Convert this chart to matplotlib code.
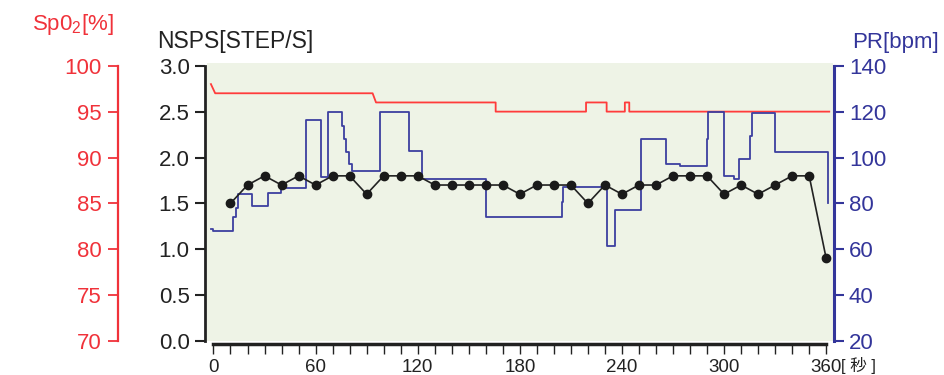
import matplotlib
matplotlib.use("Agg")
import matplotlib.pyplot as plt

plt.rcParams['font.family'] = ['Liberation Sans', 'Noto Sans CJK JP', 'DejaVu Sans']
plt.rcParams['mathtext.default'] = 'regular'

# NSPS (steps per second), one point every 10 s
nsps_t = [10, 20, 30, 40, 50, 60, 70, 80, 90, 100, 110, 120, 130, 140, 150, 160, 170, 180,
          190, 200, 210, 220, 230, 240, 250, 260, 270, 280, 290, 300, 310, 320, 330, 340, 350, 360]
nsps_v = [1.5, 1.7, 1.8, 1.7, 1.8, 1.7, 1.8, 1.8, 1.6, 1.8, 1.8, 1.8, 1.7, 1.7, 1.7, 1.7, 1.7, 1.6,
          1.7, 1.7, 1.7, 1.5, 1.7, 1.6, 1.7, 1.7, 1.8, 1.8, 1.8, 1.6, 1.7, 1.6, 1.7, 1.8, 1.8, 0.9]

# pulse rate, step changes (time, new value)
pr_t = [-1.6, -0.5, 11.6, 13.0, 14.6, 22.4, 32.2, 39.5, 54.3, 63.0, 67.3, 75.7, 76.5, 77.9, 79.6,
        81.6, 97.8, 114.6, 122.3, 160.1, 204.6, 205.5, 231.0, 235.9, 251.0, 265.7, 274.1, 289.8,
        290.7, 299.9, 306.0, 308.9, 315.2, 316.3, 329.9, 360.9]
pr_v = [69, 68, 74, 78, 84, 79, 84.5, 86.5, 116.5, 91.5, 119.7, 113.8, 108, 102.6, 97.1,
        94.2, 120, 103, 90.6, 74, 80.5, 87, 61.5, 77.2, 108, 97, 96.3, 108,
        119.8, 92, 90.5, 99.3, 109.5, 119.3, 102.3, 80]

# SpO2 trace vertices
spo2_t = [-1.5, 1.0, 93.5, 95.5, 165.8, 165.8, 218.9, 218.9, 231.0, 231.0, 241.7, 241.7, 244.3, 244.3, 361.8]
spo2_v = [98, 97, 97, 96, 96, 95, 95, 96, 96, 95, 95, 96, 96, 95, 95]

x_ticks = list(range(0, 361, 10))
x_labels = [str(t) if t % 60 == 0 else '' for t in x_ticks]
nsps_ticks = [0.0, 0.5, 1.0, 1.5, 2.0, 2.5, 3.0]
pr_ticks = [20, 40, 60, 80, 100, 120, 140]
spo2_ticks = [70, 75, 80, 85, 90, 95, 100]

RED = '#f0323a'
BLUE = '#33359a'
DARK = '#222222'

W, H = 944, 375
fig = plt.figure(figsize=(W / 100, H / 100), dpi=100)
ax_sp = fig.add_axes([207 / W, (H - 341) / H, (833 - 207) / W, (341 - 63) / H])
ax_pr = ax_sp.twinx()
ax = ax_sp.twinx()

ax_sp.set_zorder(0)
ax_pr.set_zorder(1)
ax.set_zorder(2)
ax_sp.set_facecolor('#eef3e6')
ax_pr.patch.set_visible(False)
ax.patch.set_visible(False)

xlim = (-3.8, 364)
top = 3.03
for a in (ax_sp, ax_pr, ax):
    a.set_xlim(*xlim)
    for s in a.spines.values():
        s.set_visible(False)

ax.set_ylim(0, top)
ax_pr.set_ylim(20, 20 + 40 * top)
ax_sp.set_ylim(70, 70 + 10 * top)

# data
ax_sp.plot(spo2_t, spo2_v, color='#ff3b3b', lw=1.3)
ax_pr.plot(pr_t, pr_v, color='#3c3fa0', lw=1.3, drawstyle='steps-post')
ax.plot(nsps_t, nsps_v, color=DARK, lw=1.2, marker='o', markersize=6,
        markerfacecolor='#1a1a1a', markeredgecolor='#1a1a1a')

# NSPS axis on the left of the plot
ax.yaxis.tick_left()
ax.spines['left'].set_visible(True)
ax.spines['left'].set_position(('outward', 1.5))
ax.spines['left'].set_bounds(0, 3.0)
ax.spines['left'].set_linewidth(2)
ax.spines['left'].set_color(DARK)
ax.set_yticks(nsps_ticks)
ax.set_yticklabels([f'{v:.1f}' for v in nsps_ticks])
ax.tick_params(axis='y', direction='out', length=7, width=1.5, color=DARK,
               labelsize=16, labelcolor=DARK, pad=4)

# x axis (drawn on the bottom axes)
ax_sp.spines['bottom'].set_visible(True)
ax_sp.spines['bottom'].set_position(('outward', 2))
ax_sp.spines['bottom'].set_bounds(0, 360)
ax_sp.spines['bottom'].set_linewidth(2.5)
ax_sp.spines['bottom'].set_color(DARK)
ax_sp.set_xticks(x_ticks)
ax_sp.set_xticklabels(x_labels)
ax_sp.tick_params(axis='x', direction='out', length=7, width=1, color=DARK,
                  labelsize=13.5, labelcolor=DARK, pad=4)
ax_sp.annotate('[ 秒 ]', xy=(360, 0), xycoords=('data', 'axes fraction'),
               xytext=(11, -17.5), textcoords='offset points', ha='left', va='center',
               fontsize=12, color=DARK)

# PR axis on the right
ax_pr.spines['right'].set_visible(True)
ax_pr.spines['right'].set_position(('outward', 0.5))
ax_pr.spines['right'].set_bounds(20, 140)
ax_pr.spines['right'].set_linewidth(2.2)
ax_pr.spines['right'].set_color(BLUE)
ax_pr.set_yticks(pr_ticks)
ax_pr.tick_params(axis='y', direction='out', length=7, width=1.5, color=BLUE,
                  labelsize=16, labelcolor=BLUE, pad=4)

# SpO2 axis, offset far left
ax_sp.yaxis.tick_left()
ax_sp.spines['left'].set_visible(True)
ax_sp.spines['left'].set_position(('outward', 64))
ax_sp.spines['left'].set_bounds(70, 100)
ax_sp.spines['left'].set_linewidth(1.6)
ax_sp.spines['left'].set_color(RED)
ax_sp.set_yticks(spo2_ticks)
ax_sp.tick_params(axis='y', direction='out', length=7, width=1.3, color=RED,
                  labelsize=16, labelcolor=RED, pad=5)

# axis titles
fig.text(32 / W, 1 - 30 / H, 'Sp0$_2$[%]', color=RED, fontsize=16, va='baseline', ha='left')
fig.text(157 / W, 1 - 48 / H, 'NSPS[STEP/S]', color=DARK, fontsize=16.5, va='baseline', ha='left')
fig.text(852 / W, 1 - 48 / H, 'PR[bpm]', color=BLUE, fontsize=16, va='baseline', ha='left')

fig.savefig('out.png', dpi=100)
